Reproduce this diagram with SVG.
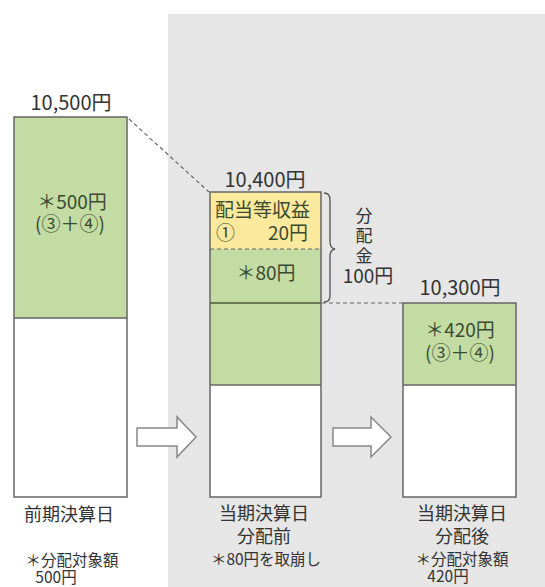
<svg xmlns="http://www.w3.org/2000/svg" width="545" height="587" viewBox="0 0 545 587">
<style>
text{font-family:"Noto Sans CJK JP","Noto Sans",sans-serif;fill:#333}
.amt{font-size:20px;text-anchor:middle}
.in{font-size:19px;fill:#3b4a30}
.lbl{font-size:18px;text-anchor:middle}
.note{font-size:15.5px;text-anchor:middle}
.box{stroke:#666;stroke-width:1.5}
.green{fill:#c2dca3}
.yellow{fill:#fbe99d}
.white{fill:#fff}
.dash{stroke:#666;stroke-width:1.2;stroke-dasharray:4 3;fill:none}
.arrow{fill:#fff;stroke:#888;stroke-width:1.5}
</style>
<rect x="0" y="0" width="545" height="587" fill="#fff"/>
<rect x="168" y="14" width="377" height="573" fill="#e6e6e6"/>

<g id="connectors">
<line class="dash" x1="129" y1="119" x2="209" y2="192"/>
<line class="dash" x1="322" y1="303" x2="403" y2="303"/>
<path class="arrow" d="M137,428 H177 V417 L196,437 L177,457 V446 H137 Z"/>
<path class="arrow" d="M333,428 H371 V417 L391,437 L371,457 V446 H333 Z"/>
<path d="M324,193 Q330,193 330,200 V242 Q330,248 335,249 Q330,250 330,256 V296 Q330,302 324,302" fill="none" stroke="#555" stroke-width="1.3"/>
</g>

<g id="bar-prev">
<rect class="green" x="14" y="117" width="113" height="201"/>
<rect class="white" x="14" y="318" width="113" height="179"/>
<rect x="14" y="117" width="113" height="380" fill="none" class="box"/>
<line x1="14" y1="318" x2="127" y2="318" class="box"/>
<text class="amt" x="71" y="110">10,500円</text>
<text class="in" text-anchor="middle"><tspan x="72" y="209">＊500円</tspan><tspan x="70" y="231">(③＋④)</tspan></text>
<text class="lbl" x="69" y="521">前期決算日</text>
<text class="note"><tspan x="72" y="566">＊分配対象額</tspan><tspan x="56" y="583">500円</tspan></text>
</g>

<g id="bar-before">
<rect class="yellow" x="210" y="192" width="111" height="57"/>
<rect class="green" x="210" y="249" width="111" height="136"/>
<rect class="white" x="210" y="385" width="111" height="112"/>
<rect x="210" y="192" width="111" height="305" fill="none" class="box"/>
<line class="dash" x1="210" y1="249" x2="321" y2="249"/>
<line x1="210" y1="303" x2="321" y2="303" stroke="#4a5a3a" stroke-width="1.5"/>
<line x1="210" y1="385" x2="321" y2="385" class="box"/>
<text class="amt" x="265" y="187">10,400円</text>
<text class="in" fill="#3d3a20"><tspan x="215" y="217">配当等収益</tspan><tspan x="216" y="240">①</tspan><tspan x="268" y="240">20円</tspan></text>
<text class="in" x="266" y="280" text-anchor="middle">＊80円</text>
<text class="lbl"><tspan x="264" y="520">当期決算日</tspan><tspan x="264" y="543">分配前</tspan></text>
<text class="note" x="266" y="565">＊80円を取崩し</text>
</g>

<g id="distribution">
<text x="364" y="207" style="font-size:17px;writing-mode:vertical-rl;letter-spacing:3px">分配金</text>
<text class="amt" x="368" y="283" style="font-size:19px">100円</text>
</g>

<g id="bar-after">
<rect class="green" x="403" y="303" width="113" height="82"/>
<rect class="white" x="403" y="385" width="113" height="112"/>
<rect x="403" y="303" width="113" height="194" fill="none" class="box"/>
<line x1="403" y1="385" x2="516" y2="385" class="box"/>
<text class="amt" x="460" y="295">10,300円</text>
<text class="in" text-anchor="middle"><tspan x="460" y="337">＊420円</tspan><tspan x="460" y="360">(③＋④)</tspan></text>
<text class="lbl"><tspan x="462" y="520">当期決算日</tspan><tspan x="462" y="543">分配後</tspan></text>
<text class="note"><tspan x="462" y="565">＊分配対象額</tspan><tspan x="448" y="582">420円</tspan></text>
</g>
</svg>
